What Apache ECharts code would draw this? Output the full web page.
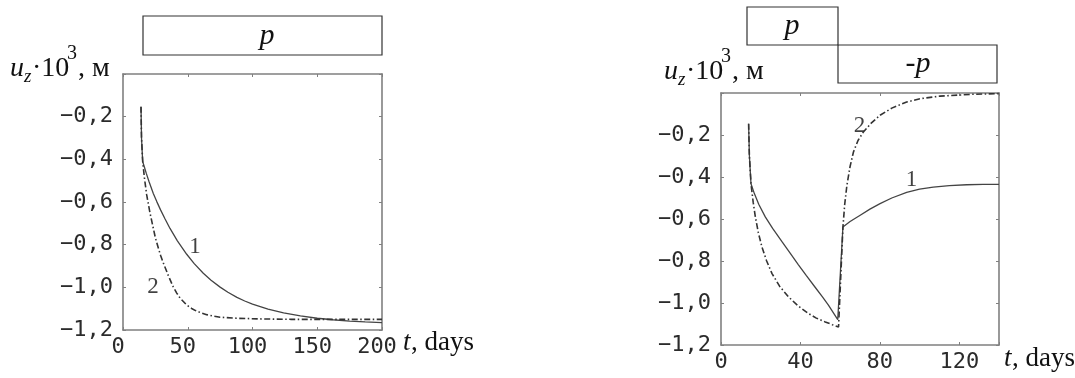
<!DOCTYPE html>
<html>
<head>
<meta charset="utf-8">
<script src="https://cdn.jsdelivr.net/npm/echarts@6/dist/echarts.min.js"></script>
<style>
html,body{margin:0;padding:0;background:#fff;}
#chart{width:1075px;height:378px;}
</style>
</head>
<body>
<div id="chart"></div>
<script>
// ---- Data ----
// Left panel: constant load p
const leftXTicks = [0, 50, 100, 150, 200];
const leftYTicks = [0, -0.2, -0.4, -0.6, -0.8, -1.0, -1.2];
const left1T = [13.9, 14.3, 15.2, 16.5, 18, 20, 23.4, 26, 29, 32.5, 36.3, 42, 49.2, 55, 62, 68, 75, 81, 88, 94, 100, 112, 124, 137, 150, 162, 175, 187, 200];
const left1U = [-0.153, -0.30, -0.41, -0.436, -0.466, -0.503, -0.56, -0.597, -0.637, -0.68, -0.724, -0.782, -0.845, -0.889, -0.934, -0.967, -0.999, -1.023, -1.047, -1.064, -1.079, -1.102, -1.12, -1.134, -1.145, -1.152, -1.158, -1.162, -1.165];
const left2T = [13.9, 14.3, 15.2, 16.6, 18.3, 20.8, 23.4, 25, 27, 29, 31.1, 35, 38.8, 41.5, 44, 49.2, 53, 56, 60, 64.6, 70, 75, 87.8, 105.8, 130, 160, 200];
const left2U = [-0.153, -0.30, -0.41, -0.49, -0.567, -0.65, -0.723, -0.768, -0.81, -0.85, -0.885, -0.945, -0.998, -1.027, -1.05, -1.083, -1.099, -1.109, -1.119, -1.128, -1.135, -1.14, -1.145, -1.148, -1.15, -1.15, -1.15];
const leftLabels = [[55.6, -0.811, '1'], [23.2, -0.998, '2']];

// Right panel: load p, then -p
const rightXTicks = [0, 40, 80, 120];
const rightYTicks = [0, -0.2, -0.4, -0.6, -0.8, -1.0, -1.2];
const right1T = [13.9, 14.3, 15.1, 16.8, 19, 22.3, 26, 30.7, 35, 39, 43, 47.4, 51, 54.1, 58.8, 61.4, 65, 70.1, 75, 80.1, 86, 93.5, 100, 106.9, 115, 123.7, 132, 140];
const right1U = [-0.146, -0.30, -0.432, -0.479, -0.53, -0.59, -0.645, -0.708, -0.765, -0.818, -0.87, -0.925, -0.97, -1.01, -1.079, -0.638, -0.612, -0.582, -0.553, -0.527, -0.50, -0.473, -0.458, -0.448, -0.441, -0.437, -0.435, -0.435];
const right2T = [13.9, 14.3, 15.1, 16.2, 17.3, 18.8, 20.6, 23, 25.7, 29.5, 34, 39, 44, 48, 52.5, 56, 59.2, 61.4, 62.3, 63.4, 65, 66.7, 69, 71.7, 75.5, 80.1, 86, 93.5, 101, 110.3, 127, 140];
const right2U = [-0.146, -0.30, -0.432, -0.52, -0.59, -0.665, -0.733, -0.80, -0.86, -0.92, -0.971, -1.015, -1.05, -1.072, -1.09, -1.103, -1.114, -0.64, -0.53, -0.44, -0.35, -0.281, -0.226, -0.186, -0.145, -0.106, -0.072, -0.043, -0.026, -0.015, -0.006, -0.003];
const rightLabels = [[69.7, -0.159, '2'], [95.9, -0.416, '1']];

function zip(t, u) { return t.map((x, i) => [x, u[i]]); }

const AX = '#808080';
const TXT = '#2b2b2b';
const MONO = "'DejaVu Sans Mono', monospace";
const SERIF = "'Liberation Serif', 'DejaVu Serif', serif";

function yFmt(v) {
  if (Math.abs(v) < 1e-9) return '';
  return '\u2212' + Math.abs(v).toFixed(1).replace('.', ',');
}

function xAxisPair(gi, ticks, max, interval, pad) {
  const base = {
    type: 'value', gridIndex: gi, min: ticks[0], max: max, interval: interval,
    splitLine: { show: false },
    axisLine: { show: true, onZero: false, lineStyle: { color: AX, width: 1.6 } },
    axisTick: { show: true, inside: true, length: 3, lineStyle: { color: AX } }
  };
  return [
    Object.assign({}, base, { position: 'bottom',
      axisLabel: { show: true, color: TXT, fontFamily: MONO, fontSize: 22, margin: 6, padding: pad,
        formatter: v => ticks.indexOf(v) >= 0 ? String(v) : '' } }),
    Object.assign({}, base, { position: 'top', axisLabel: { show: false } })
  ];
}
function yAxisPair(gi, ticks) {
  const base = {
    type: 'value', gridIndex: gi, min: ticks[ticks.length - 1], max: ticks[0], interval: 0.2,
    splitLine: { show: false },
    axisLine: { show: true, onZero: false, lineStyle: { color: AX, width: 1.6 } },
    axisTick: { show: true, inside: true, length: 3, lineStyle: { color: AX } }
  };
  return [
    Object.assign({}, base, { position: 'left',
      axisLabel: { show: true, color: TXT, fontFamily: MONO, fontSize: 22, margin: 10, formatter: yFmt } }),
    Object.assign({}, base, { position: 'right', axisLabel: { show: false } })
  ];
}

const xAxes = xAxisPair(0, leftXTicks, 200, 50, [0, 10, 0, 0]).concat(xAxisPair(1, rightXTicks, 140, 40, 0));
const yAxes = yAxisPair(0, leftYTicks).concat(yAxisPair(1, rightYTicks));

const solid = { color: '#444', width: 1.3, type: 'solid' };
const dashdot = { color: '#333', width: 1.6, type: [6, 2.5, 1.5, 2.5] };

function lineSeries(xi, yi, data, style) {
  return { type: 'line', xAxisIndex: xi, yAxisIndex: yi, data: data, showSymbol: false, symbol: 'none',
    smooth: false, lineStyle: style, silent: true, animation: false, z: 3 };
}
function labelSeries(xi, yi, arr) {
  return { type: 'scatter', xAxisIndex: xi, yAxisIndex: yi, symbolSize: 0, silent: true, animation: false,
    data: arr.map(a => ({ value: [a[0], a[1]], name: a[2] })),
    label: { show: true, position: 'inside', formatter: p => p.name, color: '#111',
      fontFamily: SERIF, fontSize: 23 } };
}

function yName(x, base) {
  // u_z·10^3, м
  return [
    { type: 'text', left: x, top: base - 22, style: { text: 'u', font: 'italic 28px ' + SERIF, fill: '#111' } },
    { type: 'text', left: x + 14, top: base - 10, style: { text: 'z', font: 'italic 19px ' + SERIF, fill: '#111' } },
    { type: 'text', left: x + 22, top: base - 22, style: { text: '\u00b710', font: '28px ' + SERIF, fill: '#111' } },
    { type: 'text', left: x + 57, top: base - 33, style: { text: '3', font: '20px ' + SERIF, fill: '#111' } },
    { type: 'text', left: x + 68, top: base - 22, style: { text: ', \u043c', font: '28px ' + SERIF, fill: '#111' } }
  ];
}
function tName(x, top) {
  return [
    { type: 'text', left: x, top: top, style: { text: 't', font: 'italic 27px ' + SERIF, fill: '#111' } },
    { type: 'text', left: x + 8, top: top, style: { text: ', days', font: '27px ' + SERIF, fill: '#111' } }
  ];
}
function box(x, y, w, h) {
  return { type: 'rect', shape: { x: x, y: y, width: w, height: h },
    style: { fill: 'none', stroke: '#333', lineWidth: 1.2 } };
}

const graphics = []
  .concat([box(143, 16, 239, 39)])
  .concat([{ type: 'text', x: 267, y: 36, style: { text: 'p', font: 'italic 30px ' + SERIF, fill: '#111', align: 'center', verticalAlign: 'middle' } }])
  .concat([box(747, 7, 91, 38), box(838, 45, 159, 38)])
  .concat([{ type: 'text', x: 792, y: 26, style: { text: 'p', font: 'italic 30px ' + SERIF, fill: '#111', align: 'center', verticalAlign: 'middle' } }])
  .concat([{ type: 'text', x: 918, y: 64, style: { text: '{r|-}{i|p}', fill: '#111', align: 'center', verticalAlign: 'middle',
      rich: { r: { font: '30px ' + SERIF, fill: '#111' }, i: { font: 'italic 30px ' + SERIF, fill: '#111' } } } }])
  .concat(yName(10, 77))
  .concat(yName(664, 80))
  .concat(tName(403, 329))
  .concat(tName(1004, 345));

const chart = echarts.init(document.getElementById('chart'), null, { renderer: 'canvas' });
chart.setOption({
  backgroundColor: '#fff',
  animation: false,
  grid: [
    { left: 123, top: 74, width: 259, height: 256, containLabel: false },
    { left: 721, top: 93, width: 278, height: 252, containLabel: false }
  ],
  xAxis: xAxes,
  yAxis: yAxes,
  series: [
    lineSeries(0, 0, zip(left1T, left1U), solid),
    lineSeries(0, 0, zip(left2T, left2U), dashdot),
    labelSeries(0, 0, leftLabels),
    lineSeries(2, 2, zip(right1T, right1U), solid),
    lineSeries(2, 2, zip(right2T, right2U), dashdot),
    labelSeries(2, 2, rightLabels)
  ],
  graphic: graphics
});
</script>
</body>
</html>
